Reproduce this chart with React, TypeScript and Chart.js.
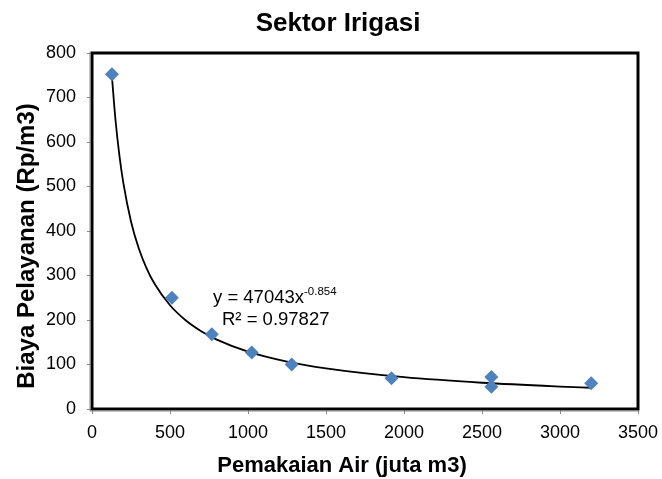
import React, { useEffect, useRef } from "react";
import { Chart, registerables } from "chart.js";

Chart.register(...registerables);

// Observed data (Pemakaian Air, Biaya Pelayanan)
const usageX = [128, 512, 768, 1024, 1280, 1920, 2560, 2560, 3200];
const costY = [752, 250, 168, 127, 100, 69, 72, 50, 58];

// Power trendline y = 47043x^-0.854 (values as plotted)
const trendX = [128, 150, 175, 200, 250, 300, 350, 400, 500, 600, 700, 800, 1000, 1250, 1500, 2000, 2500, 3000, 3200];
const trendY = [746, 651.7, 571.4, 509.7, 421.3, 360.6, 316.1, 282.0, 233.1, 199.5, 174.9, 156.0, 129.0, 106.6, 91.2, 71.4, 59.0, 50.5, 47.8];

const titleText = "Sektor Irigasi";
const xTitle = "Pemakaian Air (juta m3)";
const yTitle = "Biaya Pelayanan (Rp/m3)";
const eqLine1 = "y = 47043x";
const eqExp = "-0.854";
const eqLine2 = "R² = 0.97827";

const FONT = "'Liberation Sans', Arial, sans-serif";

const framePlugin = {
  id: "frame",
  afterDatasetsDraw(chart: any) {
    const { ctx, chartArea: a } = chart;
    ctx.save();
    ctx.strokeStyle = "#000";
    ctx.lineWidth = 3;
    ctx.strokeRect(a.left, a.top, a.right - a.left, a.bottom - a.top);
    ctx.strokeStyle = "#8a8a8a";
    ctx.lineWidth = 1;
    ctx.beginPath();
    ctx.moveTo(a.left - 2, a.top - 1);
    ctx.lineTo(a.left - 2, a.bottom + 2);
    ctx.lineTo(a.right + 1, a.bottom + 2);
    ctx.stroke();
    ctx.fillStyle = "#000";
    ctx.textBaseline = "middle";
    // chart title
    ctx.textAlign = "center";
    ctx.font = `bold 26px ${FONT}`;
    ctx.fillText(titleText, 338, 24);
    // x title
    ctx.font = `bold 22px ${FONT}`;
    ctx.fillText(xTitle, 342, 466);
    // y title
    ctx.save();
    ctx.translate(27, 246);
    ctx.rotate(-Math.PI / 2);
    ctx.font = `bold 24px ${FONT}`;
    ctx.fillText(yTitle, 0, 0);
    ctx.restore();
    // equation label
    ctx.textAlign = "left";
    ctx.font = `18.5px ${FONT}`;
    const w1 = ctx.measureText(eqLine1).width;
    ctx.fillText(eqLine1, 213, 298);
    ctx.font = `11.5px ${FONT}`;
    ctx.fillText(eqExp, 213 + w1, 292);
    ctx.font = `18.5px ${FONT}`;
    ctx.fillText(eqLine2, 222, 320);
    ctx.restore();
  },
};

export default function App() {
  const ref = useRef<HTMLCanvasElement>(null);
  useEffect(() => {
    if (!ref.current) return;
    const chart = new Chart(ref.current, {
      type: "scatter",
      data: {
        datasets: [
          {
            label: "trend",
            data: trendX.map((x, i) => ({ x, y: trendY[i] })),
            showLine: true,
            borderColor: "#000",
            borderWidth: 1.8,
            pointRadius: 0,
            cubicInterpolationMode: "monotone",
            order: 2,
          } as any,
          {
            label: "data",
            data: usageX.map((x, i) => ({ x, y: costY[i] })),
            pointStyle: "rectRot",
            pointRadius: 7,
            backgroundColor: "#4F81BD",
            borderColor: "#4F81BD",
            borderWidth: 0,
            order: 1,
          } as any,
        ],
      },
      options: {
        animation: false,
        responsive: false,
        layout: { padding: { left: 0, right: 24, top: 53, bottom: 0 } },
        plugins: {
          legend: { display: false },
          tooltip: { enabled: false },
          title: { display: false },
        },
        scales: {
          x: {
            type: "linear",
            min: 0,
            max: 3500,
            ticks: {
              stepSize: 500,
              color: "#000",
              font: { family: FONT, size: 18 },
              padding: 8,
              maxRotation: 0,
              callback: (v: any) => String(v),
            },
            grid: { drawOnChartArea: false, drawTicks: true, tickLength: 5, color: "#8a8a8a" },
            border: { display: false },
            afterFit: (s: any) => { s.height = 70; s.paddingRight = 0; s.paddingLeft = 0; },
          },
          y: {
            type: "linear",
            min: 0,
            max: 800,
            ticks: {
              stepSize: 100,
              color: "#000",
              font: { family: FONT, size: 18 },
              padding: 11,
              callback: (v: any) => String(v),
            },
            grid: { drawOnChartArea: false, drawTicks: true, tickLength: 5, color: "#8a8a8a" },
            border: { display: false },
            afterFit: (s: any) => { s.width = 92; s.paddingTop = 0; s.paddingBottom = 0; },
          },
        },
      },
      plugins: [framePlugin],
    });
    return () => chart.destroy();
  }, []);
  return (
    <div style={{ position: "fixed", left: 0, top: 0, width: 662, height: 479, background: "#fff" }}>
      <canvas ref={ref} width={662} height={479} style={{ width: 662, height: 479 }} />
    </div>
  );
}
